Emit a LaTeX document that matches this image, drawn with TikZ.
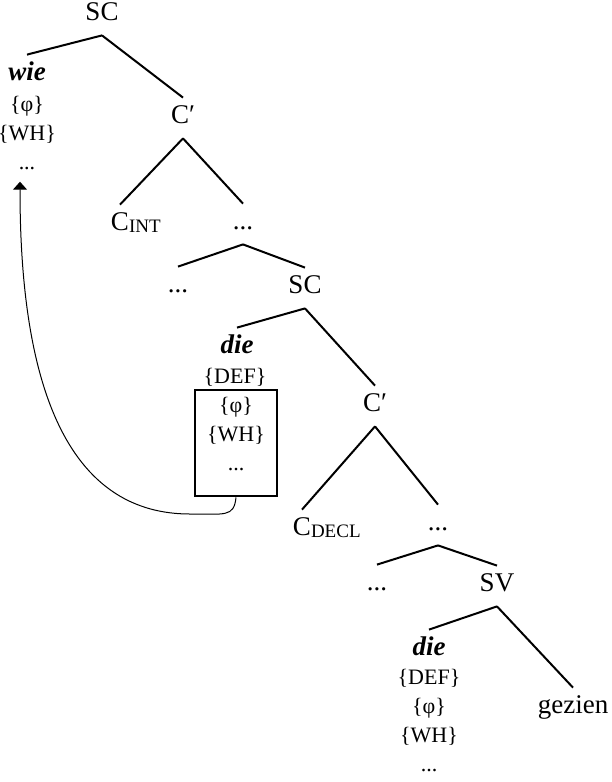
\documentclass[tikz,border=0pt]{standalone}
\usepackage{fontspec}
\setmainfont{Liberation Serif}
\usetikzlibrary{arrows.meta}

\begin{document}
\begin{tikzpicture}[x=0.5pt, y=-0.5pt,
  cat/.style={font=\fontsize{13.5}{16}\selectfont, anchor=base, inner xsep=1pt, inner ysep=4.5pt, text height=8pt, text depth=3pt},
  feat/.style={font=\fontsize{11}{14.5}\selectfont, anchor=base, align=center, inner sep=1pt},
  branch/.style={line width=1pt},
  movebox/.style={draw, line width=1.4pt, minimum width=41pt, minimum height=53pt, inner sep=0pt}]
\useasboundingbox (0,0) rectangle (611,782);

% Upper clause (feature stacks sit on the baseline of their last line)
\node[cat] (sc1) at (102,20) {SC};
\node[cat] (wie) at (27,80) {\textbf{\textit{wie}}};
\node[feat] (wiefeat) at (27,169) {\{φ\}\\\{WH\}\\...};
\node[cat] (cbar1) at (183,123) {C′};
\node[cat] (cint) at (120,230) {C\rlap{\lower1pt\hbox{\fontsize{9.5}{9.5}\selectfont INT}}};
\node[cat] (dots1) at (243,229) {...};
\node[cat] (dots2) at (178,292) {...};

% Embedded clause
\node[cat] (sc2) at (305,293) {SC};
\node[cat] (die1) at (237,353) {\textbf{\textit{die}}};
\node[feat] (def1) at (235,383) {\{DEF\}};
\node[movebox] (box) at (236,443) {};
\node[feat] (boxfeat) at (236,470) {\{φ\}\\\{WH\}\\...};
\node[cat] (cbar2) at (375,411) {C′};
\node[cat] (cdecl) at (302,535) {C\rlap{\lower1pt\hbox{\fontsize{9.5}{9.5}\selectfont DECL}}};
\node[cat] (dots3) at (438,530) {...};
\node[cat] (dots4) at (377,590) {...};

% Verb phrase
\node[cat] (sv) at (497,591) {SV};
\node[cat] (die2) at (429,655) {\textbf{\textit{die}}};
\node[feat] (die2feat) at (429,771) {\{DEF\}\\\{φ\}\\\{WH\}\\...};
\node[cat] (gezien) at (573,713) {gezien};

% Branches
\draw[branch] (sc1.south) -- (wie.north);
\draw[branch] (sc1.south) -- (cbar1.north);
\draw[branch] (cbar1.south) -- (cint.north);
\draw[branch] (cbar1.south) -- (dots1.north);
\draw[branch] (dots1.south) -- (dots2.north);
\draw[branch] (dots1.south) -- (sc2.north);
\draw[branch] (sc2.south) -- (die1.north);
\draw[branch] (sc2.south) -- (cbar2.north);
\draw[branch] (cbar2.south) -- (cdecl.north);
\draw[branch] (cbar2.south) -- (dots3.north);
\draw[branch] (dots3.south) -- (dots4.north);
\draw[branch] (dots3.south) -- (sv.north);
\draw[branch] (sv.south) -- (die2.north);
\draw[branch] (sv.south) -- (gezien.north);

% Movement arrow
\coordinate (loop) at (190,514);
\coordinate (target) at ([shift={(-7,10)}]wiefeat.south);
\draw[-{Triangle[width=7pt,length=4pt]}, line width=0.5pt] (box.south) .. controls +(-2,20) and +(35,0) .. (loop) .. controls +(-146,0) and +(0,150) .. (target);
\end{tikzpicture}
\end{document}
